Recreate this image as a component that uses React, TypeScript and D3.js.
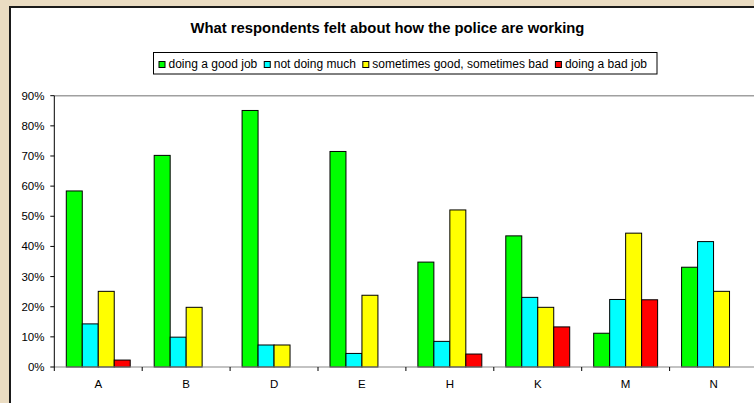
import React, { useEffect, useRef } from "react";
import * as d3 from "d3";

const categories = ["A", "B", "D", "E", "H", "K", "M", "N"];
const seriesNames = ["doing a good job", "not doing much", "sometimes good, sometimes bad", "doing a bad job"];
const seriesColors = ["#00FF00", "#00FFFF", "#FFFF00", "#FF0000"];
const goodJob = [58.4, 70.2, 85.1, 71.5, 34.8, 43.5, 11.2, 33.1];
const notMuch = [14.3, 9.9, 7.3, 4.5, 8.5, 23.1, 22.4, 41.6];
const sometimes = [25.1, 19.8, 7.3, 23.8, 52.1, 19.8, 44.4, 25.1];
const badJob: (number | null)[] = [2.3, null, null, null, 4.3, 13.3, 22.3, null];
const yTicks = [0, 10, 20, 30, 40, 50, 60, 70, 80, 90];
const title = "What respondents felt about how the police are working";

export default function App() {
  const ref = useRef<SVGSVGElement>(null);
  useEffect(() => {
    const svg = d3.select(ref.current);
    svg.selectAll("*").remove();
    const W = 754, H = 403;
    svg.append("rect").attr("width", W).attr("height", H).attr("fill", "#EADCC2");
    svg.append("rect").attr("x", 10).attr("y", 7).attr("width", 900).attr("height", 500)
      .attr("fill", "#fff").attr("stroke", "#1a1a1a").attr("stroke-width", 2);

    const font = "Arial, 'Liberation Sans', sans-serif";
    svg.append("text").attr("x", 387.5).attr("y", 33).attr("text-anchor", "middle")
      .attr("font-family", font).attr("font-weight", "bold").attr("font-size", 14.8)
      .attr("fill", "#000").text(title);

    const left = 54.3, right = 757.5, top = 95.7, bottom = 367;
    const x0 = d3.scaleBand<string>().domain(categories).range([left, right]).padding(0);
    const x1 = d3.scaleBand<number>().domain([0, 1, 2, 3]).range([0, x0.step()])
      .paddingInner(0).paddingOuter(0.75);
    const y = d3.scaleLinear().domain([0, 90]).range([bottom, top]);

    // plot area border (top)
    svg.append("line").attr("x1", left).attr("x2", 760).attr("y1", y(90)).attr("y2", y(90))
      .attr("stroke", "#a0a0a0").attr("stroke-width", 1.5);

    const all = [goodJob, notMuch, sometimes, badJob];
    all.forEach((vals, si) => {
      vals.forEach((v, ci) => {
        if (v == null) return;
        const bx = (x0(categories[ci]) as number) + (x1(si) as number);
        svg.append("rect").attr("x", bx).attr("y", y(v)).attr("width", x1.bandwidth())
          .attr("height", y(0) - y(v)).attr("fill", seriesColors[si])
          .attr("stroke", "#000").attr("stroke-width", 1);
      });
    });

    // x axis line
    svg.append("line").attr("x1", left).attr("x2", 760).attr("y1", bottom).attr("y2", bottom)
      .attr("stroke", "#888").attr("stroke-width", 1.2);
    const bounds = categories.map((c) => x0(c) as number);
    bounds.forEach((bx) => {
      svg.append("line").attr("x1", bx).attr("x2", bx).attr("y1", bottom).attr("y2", bottom + 4)
        .attr("stroke", "#000");
    });
    categories.forEach((c) => {
      svg.append("text").attr("x", (x0(c) as number) + x0.bandwidth() / 2).attr("y", 388.3)
        .attr("text-anchor", "middle").attr("font-family", font).attr("font-size", 11.5)
        .attr("fill", "#000").text(c);
    });

    // y axis
    svg.append("line").attr("x1", left).attr("x2", left).attr("y1", top).attr("y2", bottom)
      .attr("stroke", "#000");
    yTicks.forEach((t) => {
      svg.append("line").attr("x1", left - 4).attr("x2", left).attr("y1", y(t)).attr("y2", y(t))
        .attr("stroke", "#000");
      svg.append("text").attr("x", 44.5).attr("y", y(t)).attr("dy", "0.35em")
        .attr("text-anchor", "end").attr("font-family", font).attr("font-size", 11.5)
        .attr("fill", "#000").text(t + "%");
    });

    // legend
    const lg = svg.append("g");
    const box = lg.append("rect").attr("y", 52.5).attr("height", 21.5).attr("fill", "#fff")
      .attr("stroke", "#000").attr("stroke-width", 1);
    let cx = 158.5;
    seriesNames.forEach((name, i) => {
      lg.append("rect").attr("x", cx + 0.5).attr("y", 61.5).attr("width", 6).attr("height", 6)
        .attr("fill", seriesColors[i]).attr("stroke", "#000").attr("stroke-width", 1);
      const t = lg.append("text").attr("x", cx + 10).attr("y", 67.7).attr("font-family", font)
        .attr("font-size", 12).attr("fill", "#000").text(name);
      const w = (t.node() as SVGTextElement).getComputedTextLength();
      cx = cx + 10 + w + 6.5;
    });
    box.attr("x", 153.5).attr("width", Math.max(cx - 153.5, 503.5));
  }, []);
  return (
    <svg ref={ref} width={754} height={403}
      style={{ position: "fixed", left: 0, top: 0, display: "block" }} />
  );
}
